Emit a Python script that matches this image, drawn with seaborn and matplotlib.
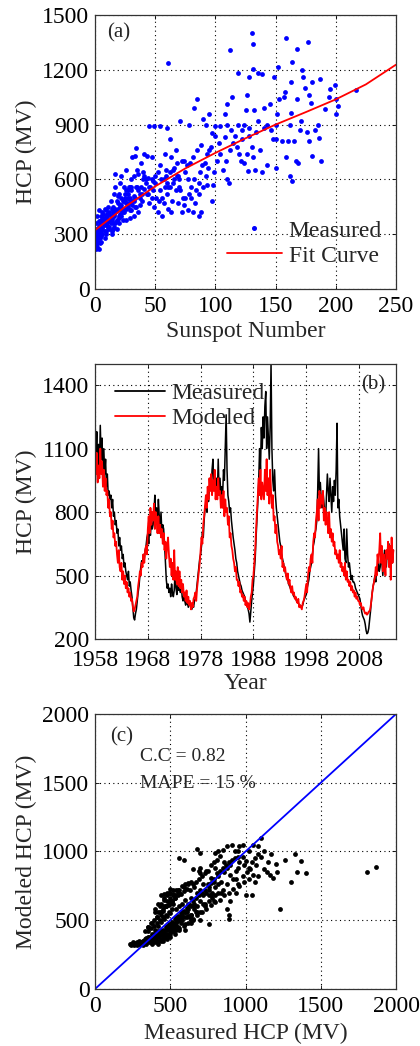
import numpy as np
import pandas as pd
import matplotlib
matplotlib.use("Agg")
import matplotlib.pyplot as plt
import seaborn as sns
from matplotlib.lines import Line2D

# ---------------- data: panel (a) ----------------
ssn_a = [130,131,159,177,112,168,61,152,131,172,164,135,139,119,128,149,187,163,173,180,199,195,217,158,174,157,178,168,194,200,202,191,85,82,114,126,145,153,163,179,200,151,140,132,125,110,108,95,90,71,49,45,54,60,78,100,97,92,104,110,135,150,171,185,170,176,183,162,165,178,186,150,155,160,180,188,167,169,159,162,164,150,143,139,133,127,124,121,131,137,126,130,120,118,122,128,115,108,103,100,96,93,88,85,81,79,76,72,68,65,62,59,66,70,75,82,86,90,93,98,97,88,86,81,77,74,73,69,63,61,57,56,52,49,47,44,41,39,37,36,34,32,30,28,27,25,22,20,18,16,14,12,11,9,8,7,6,5,4,3,2,1,1,2,3,4,0,1,2,3,5,6,8,10,12,14,16,18,20,22,24,26,28,30,32,33,34,38,40,42,43,45,47,50,52,55,58,60,62,64,67,70,72,75,78,80,84,87,91,94,99,101,104,106,110,111,109,112,113,116,119,122,124,128,134,140,143,146,148,41,38,35,30,26,24,21,19,17,15,13,11,9,7,5,3,2,1,0,4,6,9,12,15,18,21,24,27,29,33,36,39,42,45,48,51,54,57,60,63,66,69,47,43,36,26,31,22,17,54,58,62,67,
         2,3,4,5,6,7,8,9,10,11,12,13,14,15,16,17,18,19,20,21,22,23,24,25,26,27,28,29,30,31,32,33,35,37,40,44,46,48,50,53,56,59,61,65,68,71,74,77,80,83,86,89,92,95,1,2,3,0,1,0,
         1,2,3,4,5,6,7,8,9,10,11,12,13,14,15,16,17,18,19,20,21,22,23,25,27,29,31,34,37,41,5,8,11,14,17,20,23,26,29,32]
hcp_a = [1400,1340,1375,1350,1310,1315,1235,1215,1205,1200,1245,1185,1175,1180,1160,1160,1150,1135,1160,1135,1115,1095,1090,1080,1100,1050,1060,1040,1050,1040,1000,985,1040,990,1050,1060,1010,1040,965,1020,960,960,990,980,980,1010,960,960,930,920,890,890,890,880,900,890,855,900,890,900,920,900,920,900,870,860,870,900,810,810,825,820,810,810,730,700,700,690,725,620,590,665,680,640,650,645,690,700,720,760,740,780,740,780,820,840,800,830,800,840,780,740,790,760,720,690,680,700,690,650,640,620,600,600,640,600,580,560,570,570,480,420,400,420,430,460,500,470,420,440,470,400,420,450,500,520,550,480,460,420,450,400,430,470,500,520,460,440,480,520,440,420,380,400,370,360,340,320,350,300,280,240,260,230,220,250,330,360,400,430,380,420,440,350,330,300,340,380,360,400,420,380,560,600,620,730,770,560,640,600,520,560,600,580,640,600,560,520,560,480,540,560,420,500,520,500,540,640,690,660,640,700,740,650,600,580,700,760,870,840,900,870,900,880,860,880,900,870,820,740,690,650,560,540,560,580,510,560,420,480,450,430,410,400,370,330,300,280,280,300,320,370,360,330,410,480,450,390,500,540,520,580,470,540,500,540,600,580,720,660,620,720,730,630,650,720,620,630,680,740,820,760,
         310,345,290,360,330,380,350,300,390,340,410,360,380,330,400,420,370,440,390,460,430,480,440,500,470,520,490,430,540,480,510,450,560,520,600,610,560,590,620,480,500,650,560,580,620,540,700,600,560,470,520,680,620,760,220,250,260,300,320,250,
         270,300,330,370,290,350,390,320,360,410,370,340,400,390,450,410,360,430,470,400,450,500,420,480,540,500,460,560,500,620,260,280,340,320,440,520,380,440,560,480]

fit_ssn = [0, 25, 50, 75, 100, 125, 150, 175, 200, 225, 250]
fit_hcp = [322, 450, 562, 660, 745, 825, 900, 968, 1038, 1120, 1228]

# ---------------- data: panel (b) (bimonthly values, 1958.0 -> 2014.5) ----------------
start_year = 1958
per_year = 6
measured_b = [
    1250, 1050, 1180, 950, 1120, 1000,   # 1958
    1210, 1050, 1150, 960, 1100, 980,    # 1959
    1050, 920, 980, 880, 900, 860,       # 1960
    880, 820, 860, 780, 800, 740,        # 1961
    760, 700, 720, 640, 680, 620,        # 1962
    640, 580, 600, 540, 560, 520,        # 1963
    500, 480, 520, 450, 470, 430,        # 1964
    400, 350, 300, 290, 320, 340,        # 1965
    380, 420, 450, 500, 540, 570,        # 1966
    560, 600, 580, 620, 640, 680,        # 1967
    700, 650, 720, 690, 760, 720,        # 1968
    740, 800, 880, 760, 820, 740,        # 1969
    860, 780, 720, 800, 700, 740,        # 1970
    720, 650, 560, 480, 440, 460,        # 1971
    420, 440, 400, 460, 420, 400,        # 1972
    430, 520, 440, 410, 470, 430,        # 1973
    480, 420, 460, 400, 380, 410,        # 1974
    380, 360, 390, 370, 350, 370,        # 1975
    360, 350, 340, 360, 350, 380,        # 1976
    390, 420, 460, 500, 540, 580,        # 1977
    600, 640, 700, 680, 760, 820,        # 1978
    840, 800, 880, 850, 920, 960,        # 1979
    900, 1000, 1050, 920, 980, 940,      # 1980
    960, 880, 1050, 900, 960, 880,       # 1981
    920, 880, 1000, 950, 1100, 1260,     # 1982
    1000, 880, 850, 800, 820, 760,       # 1983
    720, 680, 650, 620, 580, 560,        # 1984
    520, 500, 480, 460, 450, 430,        # 1985
    420, 410, 400, 380, 370, 360,        # 1986
    340, 320, 280, 330, 380, 420,        # 1987
    460, 520, 580, 680, 760, 850,        # 1988
    950, 1100, 1000, 1200, 1100, 1250,   # 1989
    1150, 1300, 1370, 1100, 1250, 1150,  # 1990
    1050, 1200, 1500, 1100, 950, 900,    # 1991
    1000, 880, 820, 780, 740, 700,       # 1992
    660, 640, 600, 580, 560, 540,        # 1993
    520, 500, 490, 480, 460, 450,        # 1994
    440, 430, 420, 410, 400, 400,        # 1995
    390, 380, 380, 370, 360, 360,        # 1996
    350, 355, 360, 380, 390, 400,        # 1997
    410, 440, 460, 480, 520, 540,        # 1998
    560, 600, 640, 660, 700, 720,        # 1999
    760, 900, 1100, 880, 940, 860,       # 2000
    820, 900, 850, 800, 760, 880,        # 2001
    980, 900, 850, 960, 880, 800,        # 2002
    920, 850, 950, 880, 1000, 1220,      # 2003
    820, 860, 780, 740, 700, 660,        # 2004
    620, 720, 580, 560, 720, 600,        # 2005
    540, 560, 520, 480, 500, 470,        # 2006
    470, 460, 440, 430, 420, 410,        # 2007
    400, 390, 360, 330, 310, 300,        # 2008
    290, 270, 240, 225, 230, 250,        # 2009
    290, 330, 380, 420, 450, 470,        # 2010
    500, 470, 530, 520, 560, 520,        # 2011
    540, 600, 560, 500, 580, 620,        # 2012
    600, 540, 620, 580, 650, 560,        # 2013
    600, 640, 560, 620,                  # 2014
]
modeled_b = [
    1050, 980, 1080, 940, 1020, 960,     # 1958
    1100, 980, 1040, 920, 1000, 900,     # 1959
    960, 880, 900, 820, 860, 780,        # 1960
    800, 720, 760, 680, 700, 640,        # 1961
    660, 600, 560, 620, 540, 520,        # 1962
    560, 480, 520, 460, 500, 440,        # 1963
    470, 420, 440, 400, 420, 380,        # 1964
    390, 350, 330, 340, 360, 380,        # 1965
    400, 450, 480, 520, 500, 560,        # 1966
    540, 600, 560, 620, 640, 600,        # 1967
    720, 780, 700, 820, 740, 800,        # 1968
    760, 840, 720, 800, 760, 700,        # 1969
    780, 700, 740, 680, 720, 650,        # 1970
    700, 620, 660, 580, 640, 680,        # 1971
    600, 540, 580, 500, 560, 480,        # 1972
    620, 480, 520, 460, 540, 450,        # 1973
    520, 440, 480, 420, 460, 400,        # 1974
    420, 380, 430, 370, 400, 360,        # 1975
    380, 340, 370, 350, 390, 400,        # 1976
    420, 380, 440, 480, 520, 560,        # 1977
    620, 680, 650, 740, 780, 830,        # 1978
    880, 820, 920, 860, 960, 900,        # 1979
    980, 880, 950, 900, 1000, 860,       # 1980
    920, 860, 960, 880, 900, 820,        # 1981
    880, 820, 900, 780, 860, 800,        # 1982
    820, 740, 780, 680, 700, 640,        # 1983
    620, 580, 560, 520, 540, 480,        # 1984
    480, 450, 470, 420, 430, 400,        # 1985
    410, 380, 400, 360, 380, 350,        # 1986
    370, 340, 360, 400, 420, 480,        # 1987
    500, 560, 620, 720, 800, 880,        # 1988
    960, 880, 1000, 860, 940, 900,       # 1989
    860, 1000, 900, 1050, 880, 960,      # 1990
    840, 1000, 900, 820, 880, 760,       # 1991
    780, 700, 740, 660, 640, 600,        # 1992
    620, 580, 640, 540, 560, 520,        # 1993
    540, 500, 480, 510, 460, 480,        # 1994
    440, 420, 450, 410, 420, 390,        # 1995
    400, 380, 370, 390, 350, 360,        # 1996
    350, 340, 370, 380, 400, 430,        # 1997
    460, 420, 500, 540, 520, 580,        # 1998
    600, 560, 660, 700, 680, 760,        # 1999
    800, 860, 760, 900, 820, 880,        # 2000
    840, 900, 760, 820, 740, 800,        # 2001
    760, 700, 800, 680, 720, 660,        # 2002
    700, 640, 660, 600, 620, 580,        # 2003
    600, 560, 620, 540, 560, 520,        # 2004
    540, 500, 560, 480, 520, 470,        # 2005
    480, 450, 470, 430, 450, 420,        # 2006
    430, 400, 420, 390, 400, 380,        # 2007
    380, 360, 370, 350, 340, 350,        # 2008
    330, 320, 325, 315, 320, 330,        # 2009
    330, 350, 380, 420, 450, 470,        # 2010
    490, 540, 500, 600, 560, 620,        # 2011
    700, 560, 640, 520, 600, 560,        # 2012
    500, 620, 580, 660, 540, 640,        # 2013
    480, 680, 560, 620,                  # 2014
]

# ---------------- data: panel (c) ----------------
meas_c = [1870,1810,1400,1370,1330,1300,1340,1230,1260,1200,1210,1180,1160,1100,1080,1050,1020,980,960,1000,1040,950,910,930,880,890,890,880,760,770,700,730,780,620,600,640,680,700,590,560,830,850,820,800,770,700,690,650,700,740,800,860,900,950,990,1030,1070,1100,1120,1150,1170,1080,1050,1020,990,960,940,900,850,820,790,760,720,700,680,660,640,620,600,580,560,540,520,500,480,460,440,420,400,420,440,460,480,500,520,540,560,580,600,620,640,660,680,700,720,740,760,780,800,820,840,860,880,900,920,940,960,980,1000,1020,1040,1060,1080,1120,1140,1060,940,880,840,800,760,720,680,640,600,560,540,520,500,480,460,440,420,400,380,360,340,320,300,280,260,240,230,250,270,290,310,330,350,370,390,410,430,450,470,490,510,530,550,570,590,610,630,650,670,690,710,730,750,770,790,810,830,850,870,890,910,930,950,350,370,390,410,430,450,470,490,510,380,400,420,440,460,480,500,360,340,320,300,400,420,440,460,480,500,520,540,560,580,600,620,640,660,450,480,500,530,560,590,620,650,680,710,740,770,800,830,860,890,920,950,980,1010,440,460,480,500,520,450,470,490,510,530,550,570,590,610,630,650,670,690,710,730,750,770,790,810,
          350,380,410,440,470,500,530,560,590,620,360,390,420,450,480,510,540,570,600,630,660,400,430,460,490,520,550,580,610,640,370,400,430,460,490,520,550,580,610,640,670,700,730,760,790,820,
          240,260,280,300,320,340,360,380,400,420,440,460,480,500,520,540,560,580,330,350,370,390,410,430,450,470,490,510,530,550,420,440,460,480,500,520,540,560,600,650]
model_c = [890,850,840,930,980,780,850,580,940,910,850,810,830,1100,1040,1050,1000,1050,1040,680,680,1000,1050,1000,1040,540,510,580,470,680,500,600,660,530,430,480,1020,990,940,950,970,1010,1000,990,810,880,860,870,840,860,880,920,900,880,900,870,900,960,1000,920,980,820,830,800,780,750,700,640,720,760,780,740,760,720,700,740,780,770,760,750,700,720,690,730,700,690,680,620,580,560,540,600,640,660,620,580,600,620,650,620,660,620,600,640,680,700,720,700,740,820,780,850,880,830,800,860,920,960,930,880,920,950,980,870,850,780,800,760,700,680,640,620,560,540,520,500,460,440,420,400,380,360,350,340,330,340,330,320,330,320,325,320,330,340,335,350,345,360,380,350,370,390,410,430,450,470,490,510,530,550,570,590,610,640,660,680,700,720,760,770,800,840,860,880,900,920,940,950,960,420,440,460,480,500,520,540,560,580,400,430,460,490,510,530,550,360,370,350,340,360,380,400,410,430,450,470,490,520,540,560,580,600,580,350,360,380,400,430,460,480,510,540,560,580,610,630,650,680,700,730,760,820,850,620,650,680,700,720,570,600,610,640,660,680,690,710,730,720,760,780,800,820,840,860,900,920,940,
           450,480,520,560,600,640,680,720,740,760,380,400,420,380,460,420,520,480,560,520,600,560,600,660,700,680,720,560,560,540,340,360,390,420,440,470,450,500,520,500,560,560,620,680,640,700,
           330,320,340,330,350,340,370,360,380,390,420,400,440,460,450,480,500,520,420,450,480,500,520,560,580,600,620,640,660,700,330,350,370,380,400,420,430,440,470,500]

diag = [0, 2000]

# ---------------- style ----------------
sns.set_style("ticks")
plt.rcParams["font.family"] = ["Liberation Serif", "DejaVu Serif"]
FS = 17

fig = plt.figure(figsize=(4.2, 10.46), dpi=100)
ax_a = fig.add_axes([0.2262, 0.7237, 0.7167, 0.2620])
ax_b = fig.add_axes([0.2262, 0.3891, 0.7167, 0.2629])
ax_c = fig.add_axes([0.2262, 0.0545, 0.7167, 0.2629])


def style_axes(ax, xpad=5):
    ax.grid(True, color="black", linestyle=(0, (1, 3)), linewidth=0.8)
    ax.set_axisbelow(True)
    for s in ax.spines.values():
        s.set_color("#333333")
        s.set_linewidth(0.9)
        s.set_visible(True)
    ax.tick_params(direction="in", length=3, width=0.6, top=True, right=True,
                   labelsize=FS, colors="black")
    ax.tick_params(axis="x", pad=xpad)
    ax.tick_params(axis="y", pad=4)


# ---------------- panel (a) ----------------
df_a = pd.DataFrame({"ssn": ssn_a, "hcp": hcp_a})
sns.scatterplot(data=df_a, x="ssn", y="hcp", ax=ax_a, color="#0000ff",
                s=12, linewidth=0, legend=False)
df_fit = pd.DataFrame({"ssn": fit_ssn, "hcp": fit_hcp})
sns.lineplot(data=df_fit, x="ssn", y="hcp", ax=ax_a, color="red", lw=1.3,
             legend=False)
ax_a.set_xlim(0, 250)
ax_a.set_ylim(0, 1500)
ax_a.set_xticks([0, 50, 100, 150, 200, 250])
ax_a.set_yticks([0, 300, 600, 900, 1200, 1500])
style_axes(ax_a)
ax_a.set_xlabel("Sunspot Number", fontsize=FS, labelpad=3)
ax_a.set_ylabel("HCP (MV)", fontsize=FS, labelpad=4)
ax_a.text(10, 1400, "(a)", fontsize=15, va="center", ha="left")
h_meas = Line2D([], [], color="#0000ff", marker="o", ls="none", markersize=2.6)
h_fit = Line2D([], [], color="red", lw=1.3)
ax_a.legend([h_meas, h_fit], ["Measured", "Fit Curve"], loc="lower right",
            frameon=False, fontsize=FS, handlelength=2.3, handletextpad=0.3,
            labelspacing=0.15, borderaxespad=0.2, bbox_to_anchor=(1.0, 0.03))

# ---------------- panel (b) ----------------
t_meas = start_year + np.arange(len(measured_b)) / per_year
t_mod = start_year + np.arange(len(modeled_b)) / per_year
df_bm = pd.DataFrame({"year": t_meas, "hcp": measured_b})
df_bo = pd.DataFrame({"year": t_mod, "hcp": modeled_b})
sns.lineplot(data=df_bm, x="year", y="hcp", ax=ax_b, color="black", lw=1.1,
             sort=False, estimator=None, legend=False)
sns.lineplot(data=df_bo, x="year", y="hcp", ax=ax_b, color="red", lw=1.3,
             sort=False, estimator=None, legend=False)
ax_b.set_xlim(1958, 2015)
ax_b.set_ylim(200, 1500)
ax_b.set_xticks([1958, 1968, 1978, 1988, 1998, 2008])
ax_b.set_yticks([200, 500, 800, 1100, 1400])
style_axes(ax_b, xpad=8)
ax_b.set_xlabel("Year", fontsize=FS, labelpad=1)
ax_b.set_ylabel("HCP (MV)", fontsize=FS, labelpad=4)
ax_b.text(2012.9, 1400, "(b)", fontsize=15, va="center", ha="right")
h_bm = Line2D([], [], color="black", lw=1.3)
h_bo = Line2D([], [], color="red", lw=1.3)
ax_b.legend([h_bm, h_bo], ["Measured", "Modeled"], loc="upper left",
            frameon=False, fontsize=FS, handlelength=2.1, handletextpad=0.3,
            labelspacing=0.15, borderaxespad=0.2, bbox_to_anchor=(0.02, 0.985))

# ---------------- panel (c) ----------------
df_c = pd.DataFrame({"measured": meas_c, "modeled": model_c})
sns.scatterplot(data=df_c, x="measured", y="modeled", ax=ax_c, color="black",
                s=12, linewidth=0, legend=False)
df_d = pd.DataFrame({"x": diag, "y": diag})
sns.lineplot(data=df_d, x="x", y="y", ax=ax_c, color="#0000ff", lw=1.3,
             legend=False)
ax_c.set_xlim(0, 2000)
ax_c.set_ylim(0, 2000)
ax_c.set_xticks([0, 500, 1000, 1500, 2000])
ax_c.set_yticks([0, 500, 1000, 1500, 2000])
style_axes(ax_c)
ax_c.set_xlabel("Measured HCP (MV)", fontsize=FS, labelpad=4)
ax_c.set_ylabel("Modeled HCP (MV)", fontsize=FS, labelpad=4)
ax_c.text(100, 1835, "(c)", fontsize=15, va="center", ha="left")
ax_c.text(300, 1690, "C.C = 0.82", fontsize=14, va="center", ha="left")
ax_c.text(300, 1495, "MAPE = 15 %", fontsize=14, va="center", ha="left")

fig.savefig("out.png", dpi=100)
